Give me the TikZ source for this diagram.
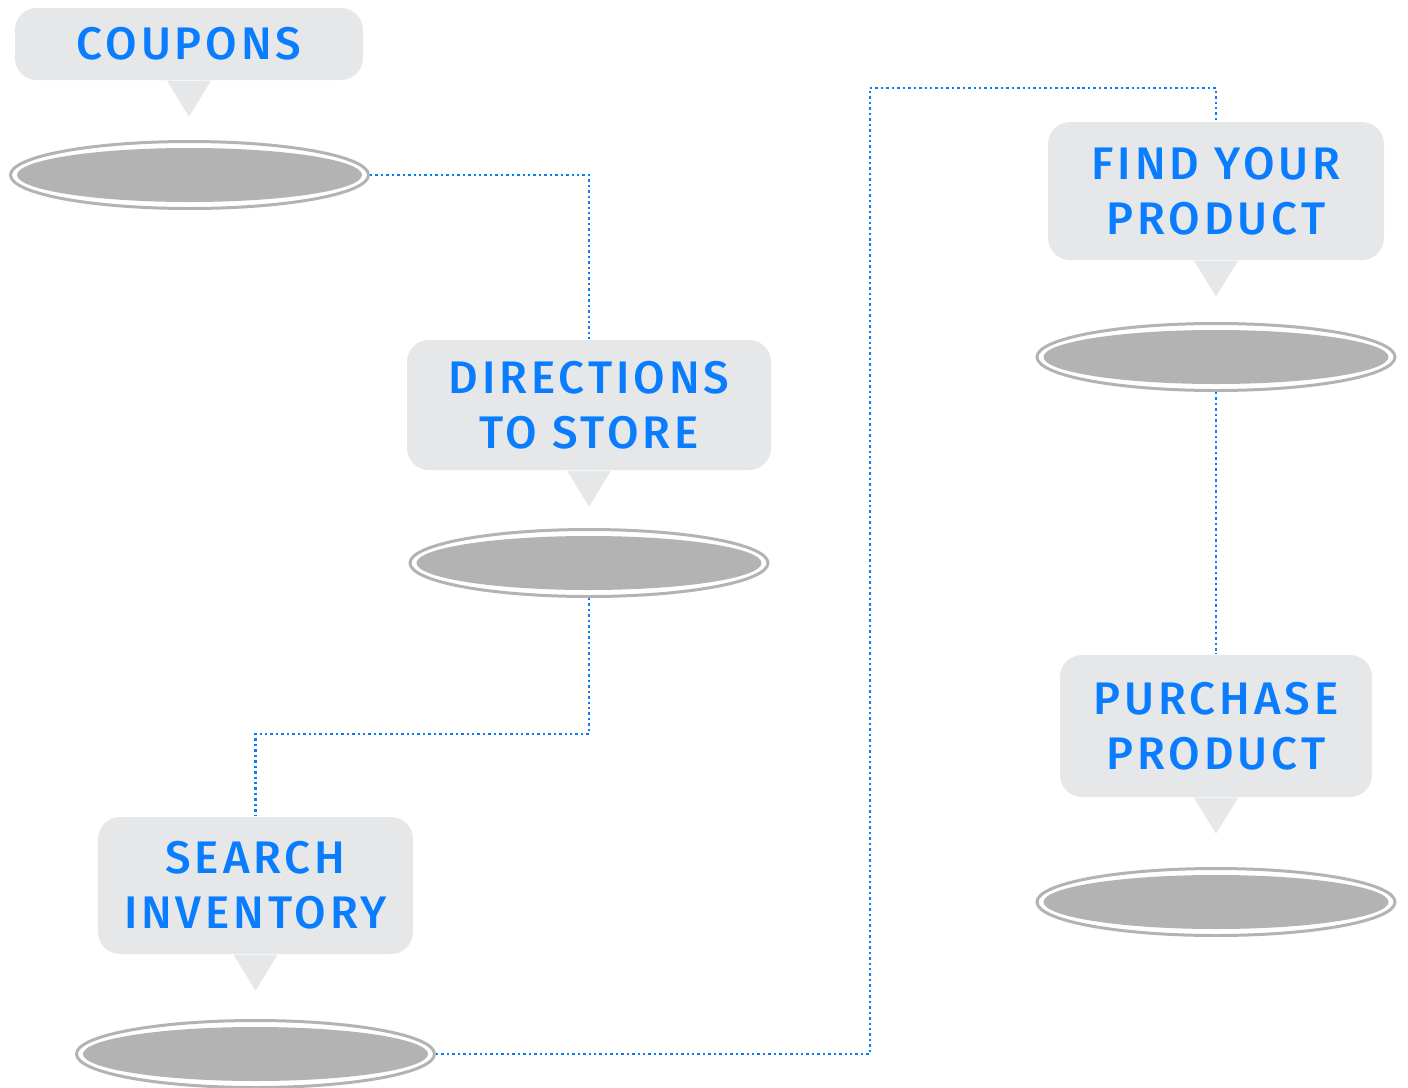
\documentclass[tikz,border=0pt]{standalone}
\usepackage{fontspec}
\usetikzlibrary{positioning,shapes.geometric}
\newfontfamily\stepfont[LetterSpace=8.5]{Fira Sans Medium}
\definecolor{bubblegray}{HTML}{E6E7E9}
\definecolor{stepblue}{HTML}{0A7DFF}
\definecolor{discgray}{HTML}{B3B3B3}

\begin{document}
\begin{tikzpicture}[node distance=8mm,
  bubble/.style={fill=bubblegray,rounded corners=2.2mm,align=center,text=stepblue,font=\stepfont\fontsize{13}{15.6}\selectfont},
  disc/.style={ellipse,draw=discgray,line width=0.85pt,fill=white,minimum width=3.58cm,minimum height=0.67cm,inner sep=0pt},
  core/.style={fill=discgray},
  link/.style={stepblue,line width=0.8pt,dash pattern=on 0.7pt off 0.85pt}]
\useasboundingbox (0,0) rectangle (14.08,-10.88);
% speech bubbles
\node[bubble,minimum width=3.48cm,minimum height=0.72cm] (coupons) at (1.89,-0.44) {COUPONS};
\node[bubble,minimum width=3.64cm,minimum height=1.30cm] (dirs) at (5.89,-4.05) {DIRECTIONS\\TO STORE};
\node[bubble,minimum width=3.15cm,minimum height=1.37cm] (search) at (2.555,-8.855) {SEARCH\\INVENTORY};
\node[bubble,minimum width=3.36cm,minimum height=1.38cm] (find) at (12.16,-1.91) {FIND YOUR\\PRODUCT};
\node[bubble,minimum width=3.12cm,minimum height=1.42cm] (buy) at (12.16,-7.26) {PURCHASE\\PRODUCT};
\foreach \b in {coupons,dirs,search,find,buy}
  \fill[bubblegray] ([xshift=-2.2mm]\b.south) -- ([xshift=2.2mm]\b.south) -- ([yshift=-3.6mm]\b.south) -- cycle;
% discs under the bubbles
\node[disc] (cdisc) at (1.895,-1.75) {};
\node[disc] (ddisc) at (5.89,-5.63) {};
\node[disc] (sdisc) at (2.555,-10.54) {};
\node[disc] (fdisc) at (12.16,-3.57) {};
\node[disc] (bdisc) at (12.16,-9.02) {};
\foreach \d in {cdisc,ddisc,sdisc,fdisc,bdisc}
  \fill[core] (\d.center) ellipse (1.725 and 0.27);
% dotted route
\coordinate (turn1) at (5.89,-7.34);
\coordinate (turn2) at (8.70,-0.88);
\draw[link] (cdisc.east) -| (dirs.north);
\draw[link] (ddisc.south) -- (turn1) -| (search.north);
\draw[link] (sdisc.east) -| (turn2) -| (find.north);
\draw[link] (fdisc.south) -- (buy.north);
\end{tikzpicture}
\end{document}
